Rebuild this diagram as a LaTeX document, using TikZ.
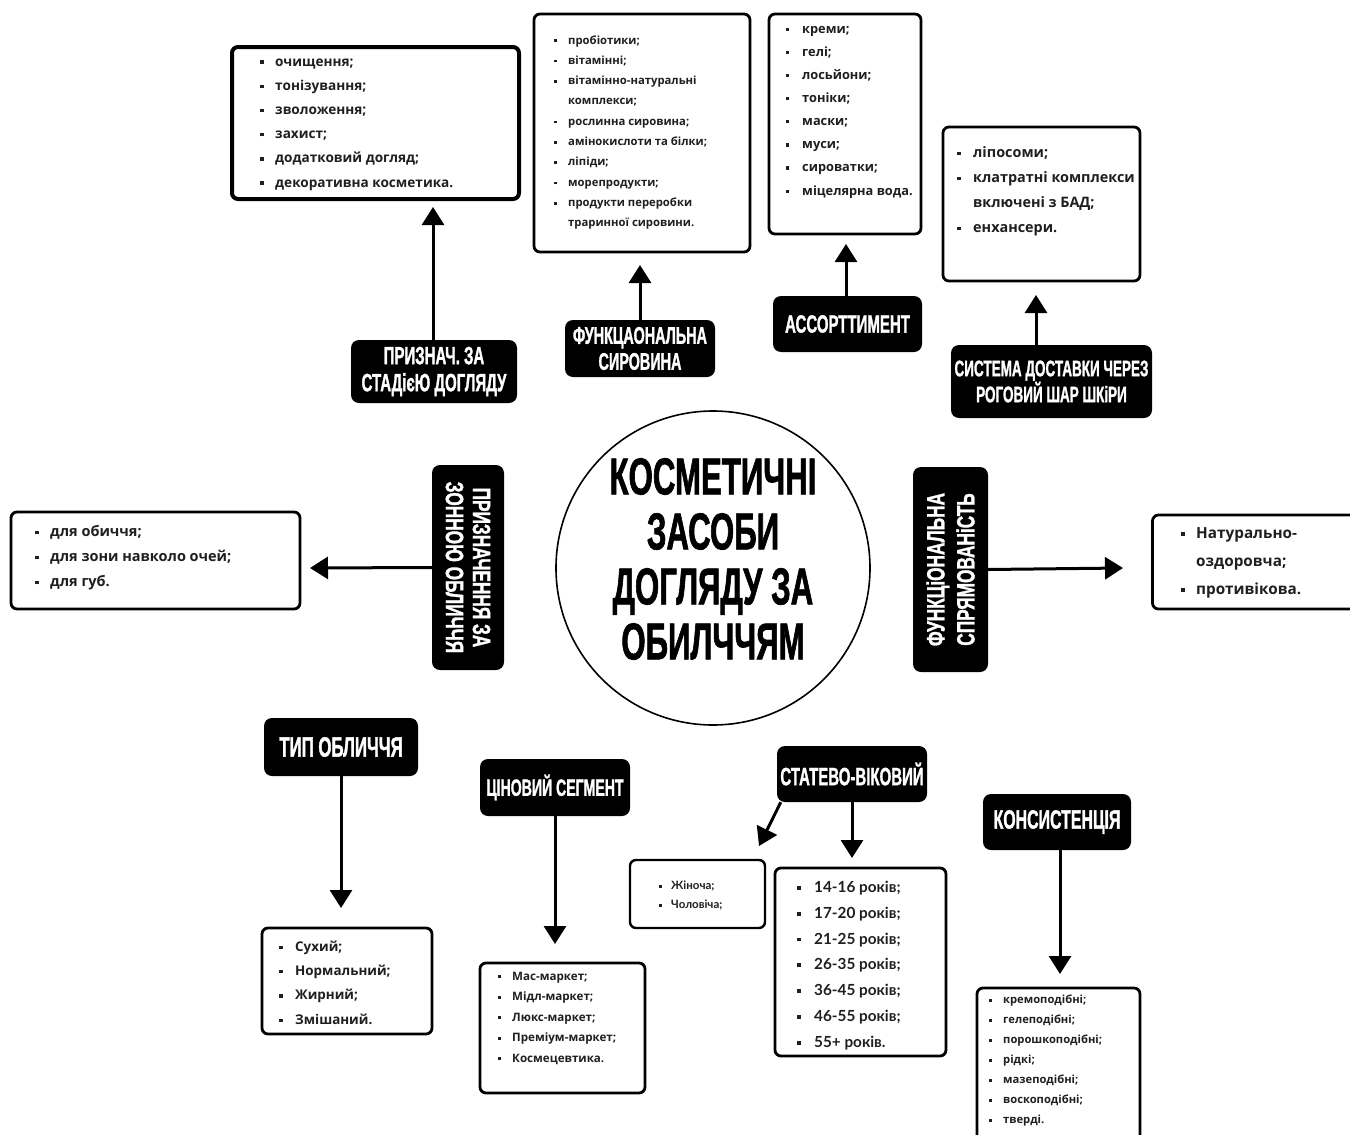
\documentclass[tikz,border=0pt]{standalone}
\usepackage{fontspec}
\setmainfont{Open Sans}
\newfontfamily\latofont{Lato}
\newfontfamily\headfont{Liberation Sans}[FakeStretch=0.6,FakeBold=1.2]
\newfontfamily\headwide{Liberation Sans}[FakeStretch=0.69,FakeBold=1.2]
\usetikzlibrary{arrows.meta,calc}

% bullet list helpers: \bi starts an item, \bc indents a continuation line
\newlength\bulw
\newcommand\bi{\makebox[\bulw][l]{\rule[0.17em]{0.25em}{0.25em}}}
\newcommand\bc{\hspace*{\bulw}}
\newcommand\lf[3]{\setlength{\bulw}{#3pt}\fontsize{#1}{#2}\selectfont\bfseries}
\newcommand\hf[2]{\headfont\bfseries\fontsize{#1}{#2}\selectfont}

\tikzset{
  listbox/.style={draw=black, line width=2.8pt, rounded corners=6pt, fill=white, inner sep=0pt},
  listtext/.style={anchor=west, align=left, inner sep=0pt, text=black!88},
  tag/.style={fill=black, rounded corners=8pt, text=white, align=center, inner sep=0pt,
    font=\hf{24}{27}},
  link/.style={line width=3pt, -{Triangle[width=22pt,length=18pt]}},
}

\begin{document}
\begin{tikzpicture}[x=1pt,y=-1pt]
\useasboundingbox (0,0) rectangle (1350,1135);
\fill[white] (0,0) rectangle (1350,1135);
\clip (0,0) rectangle (1350,1135);

% central hub
\node[circle, draw, line width=1.6pt, minimum size=314pt, inner sep=0pt] (hub) at (713,568) {};
\node[inner sep=0pt, align=center, font=\hf{52}{55}] (title) at (713,559)
  {КОСМЕТИЧНІ\\ЗАСОБИ\\ДОГЛЯДУ ЗА\\ОБИЛЧЧЯМ};

% ---------- list boxes ----------
\node[listbox, line width=4pt, minimum width=287pt, minimum height=152pt] (b1) at (375.5,123) {};
\node[listtext, font=\lf{13.6}{24.2}{15}] (t1) at (260,124.5)
  {\bi очищення;\\\bi тонізування;\\\bi зволоження;\\\bi захист;\\\bi додатковий догляд;\\\bi декоративна косметика.};

\node[listbox, minimum width=216pt, minimum height=238pt] (b2) at (642,133) {};
\node[listtext, font=\lf{11.3}{20.33}{14}] (t2) at (554,132.5)
  {\bi пробіотики;\\\bi вітамінні;\\\bi вітамінно-натуральні\\\bc комплекси;\\\bi рослинна сировина;\\\bi амінокислоти та білки;\\\bi ліпіди;\\\bi морепродукти;\\\bi продукти переробки\\\bc траринної сировини.};

\node[listbox, minimum width=152pt, minimum height=220pt] (b3) at (845,124) {};
\node[listtext, font=\lf{12.8}{23.14}{16}] (t3) at (786,112)
  {\bi креми;\\\bi гелі;\\\bi лосьйони;\\\bi тоніки;\\\bi маски;\\\bi муси;\\\bi сироватки;\\\bi міцелярна вода.};

\node[listbox, minimum width=197pt, minimum height=154pt] (b4) at (1041.5,204) {};
\node[listtext, font=\lf{14.4}{25}{16}] (t4) at (957,191.5)
  {\bi ліпосоми;\\\bi клатратні комплекси\\\bc включені з БАД;\\\bi енхансери.};

\node[listbox, minimum width=289pt, minimum height=97pt] (b5) at (155.5,560.5) {};
\node[listtext, font=\lf{14.5}{25}{15}] (t5) at (35,558)
  {\bi для обиччя;\\\bi для зони навколо очей;\\\bi для губ.};

\node[listbox, minimum width=215pt, minimum height=94pt] (b6) at (1260,562) {};
\node[listtext, font=\lf{15.3}{28}{15}] (t6) at (1181,563)
  {\bi Натурально-\\\bc оздоровча;\\\bi противікова.};

\node[listbox, minimum width=170pt, minimum height=106pt] (b7) at (347,981) {};
\node[listtext, font=\lf{13.4}{24.33}{16}] (t7) at (279,982.5)
  {\bi Сухий;\\\bi Нормальний;\\\bi Жирний;\\\bi Змішаний.};

\node[listbox, minimum width=165pt, minimum height=130pt] (b8) at (562.5,1028) {};
\node[listtext, font=\lf{11.6}{20.5}{14}] (t8) at (498,1018)
  {\bi Мас-маркет;\\\bi Мідл-маркет;\\\bi Люкс-маркет;\\\bi Преміум-маркет;\\\bi Космецевтика.};

\node[listbox, line width=2.4pt, minimum width=135pt, minimum height=68pt] (b9) at (697.5,894) {};
\node[listtext, font=\latofont\lf{11.5}{19}{12}] (t9) at (659,895.5)
  {\bi Жіноча;\\\bi Чоловіча;};

\node[listbox, minimum width=171pt, minimum height=188pt] (b10) at (860.5,962) {};
\node[listtext, font=\latofont\lf{15.3}{25.83}{17}] (t10) at (797,965.5)
  {\bi 14-16 років;\\\bi 17-20 років;\\\bi 21-25 років;\\\bi 26-35 років;\\\bi 36-45 років;\\\bi 46-55 років;\\\bi 55+ років.};

\node[listbox, minimum width=163pt, minimum height=160pt] (b11) at (1058.5,1068) {};
\node[listtext, font=\lf{11.2}{20}{14}] (t11) at (989,1061)
  {\bi кремоподібні;\\\bi гелеподібні;\\\bi порошкоподібні;\\\bi рідкі;\\\bi мазеподібні;\\\bi воскоподібні;\\\bi тверді.};

% ---------- category tags ----------
\node[tag, minimum width=166pt, minimum height=63pt, font=\hf{25}{27}] (l1) at (434,371.5) {ПРИЗНАЧ. ЗА\\СТАДієЮ ДОГЛЯДУ};
\node[tag, minimum width=150pt, minimum height=57pt, font=\hf{24}{26}] (l2) at (640,348.5) {ФУНКЦАОНАЛЬНА\\СИРОВИНА};
\node[tag, minimum width=149pt, minimum height=56pt, font=\hf{25}{27}] (l3) at (847.5,324) {АССОРТТИМЕНТ};
\node[tag, minimum width=201pt, minimum height=73pt, font=\hf{22.5}{26}] (l4) at (1051.5,381.5) {СИСТЕМА ДОСТАВКИ ЧЕРЕЗ\\РОГОВИЙ ШАР ШКіРИ};
\node[tag, rotate=-90, minimum width=205pt, minimum height=72pt,
  font=\headwide\bfseries\fontsize{25}{27}\selectfont] (l5) at (468,567.5) {ПРИЗНАЧЕННЯ ЗА\\ЗОННОЮ ОБЛИЧЧЯ};
\node[tag, rotate=90, minimum width=205pt, minimum height=75pt,
  font=\headwide\bfseries\fontsize{25}{30}\selectfont] (l6) at (950.5,569.5) {ФУНКЦіОНАЛЬНА\\СПРЯМОВАНіСТЬ};
\node[tag, minimum width=154pt, minimum height=58pt, font=\hf{28}{30}] (l7) at (341,747) {ТИП ОБЛИЧЧЯ};
\node[tag, minimum width=150pt, minimum height=57pt, font=\hf{23.5}{28}] (l8) at (555,787.5) {ЦІНОВИЙ СЕГМЕНТ};
\node[tag, minimum width=150pt, minimum height=56pt, font=\hf{25}{28}] (l9) at (852,774) {СТАТЕВО-ВІКОВИЙ};
\node[tag, minimum width=148pt, minimum height=56pt, font=\hf{26.5}{28}] (l10) at (1057,822) {КОНСИСТЕНЦІЯ};

% ---------- arrow tips ----------
\coordinate (p1) at (433,207);
\coordinate (p2) at (640,265);
\coordinate (p3) at (846,244);
\coordinate (p4) at (1036,295);
\coordinate (p5) at (310,568);
\coordinate (p6) at (1123,568);
\coordinate (p7) at (341,908);
\coordinate (p8) at (555,944);
\coordinate (p9) at (852,858);
\coordinate (p9b) at (759,846);
\coordinate (p10) at (1060,974);

\draw[link] (p1 |- l1.north) -- (p1);
\draw[link] (p2 |- l2.north) -- (p2);
\draw[link] (p3 |- l3.north) -- (p3);
\draw[link] (p4 |- l4.north) -- (p4);
\draw[link] (l5.south) -- (p5);
\draw[link] (l6.south) -- (p6);
\draw[link] (p7 |- l7.south) -- (p7);
\draw[link] (p8 |- l8.south) -- (p8);
\draw[link] (p9 |- l9.south) -- (p9);
\draw[link] ($(l9.south west)+(4,0)$) -- (p9b);
\draw[link] (p10 |- l10.south) -- (p10);
\end{tikzpicture}
\end{document}
